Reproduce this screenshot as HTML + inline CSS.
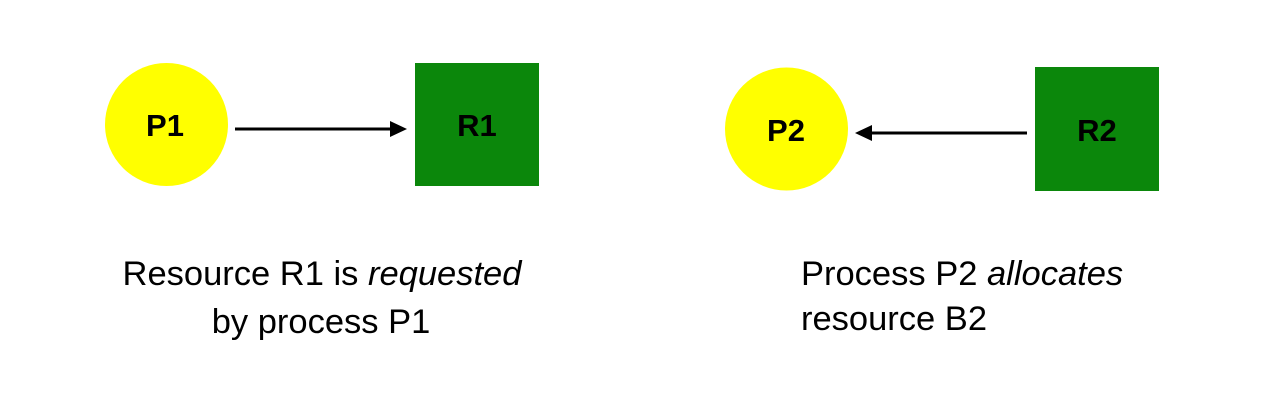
<!DOCTYPE html>
<html><head><style>
html,body{margin:0;padding:0;background:#fff;width:1276px;height:408px;overflow:hidden}
svg{display:block}
text{font-family:"Liberation Sans",Arial,sans-serif}
</style></head><body>
<svg width="1276" height="408" viewBox="0 0 1276 408">
<circle cx="166.5" cy="124.5" r="61.5" fill="#ffff00"/>
<text x="165" y="136" text-anchor="middle" font-size="31" font-weight="bold">P1</text>
<rect x="415" y="63" width="124" height="123" fill="#0b870b"/>
<text x="477" y="136" text-anchor="middle" font-size="31" font-weight="bold">R1</text>
<line x1="235" y1="129" x2="392" y2="129" stroke="#000" stroke-width="3"/>
<polygon points="407,129 390,121 390,137" fill="#000"/>

<circle cx="786.5" cy="129" r="61.5" fill="#ffff00"/>
<text x="786" y="141" text-anchor="middle" font-size="31" font-weight="bold">P2</text>
<rect x="1035" y="67" width="124" height="124" fill="#0b870b"/>
<text x="1097" y="141" text-anchor="middle" font-size="31" font-weight="bold">R2</text>
<line x1="1027" y1="133" x2="870" y2="133" stroke="#000" stroke-width="3"/>
<polygon points="855,133 872,125 872,141" fill="#000"/>

<text x="322" y="285" text-anchor="middle" font-size="34.5">Resource R1 is <tspan font-style="italic">requested</tspan></text>
<text x="321" y="333" text-anchor="middle" font-size="34.5">by process P1</text>
<text x="801" y="285" font-size="34.5">Process P2 <tspan font-style="italic">allocates</tspan></text>
<text x="801" y="330" font-size="34.5">resource B2</text>
</svg>
</body></html>
